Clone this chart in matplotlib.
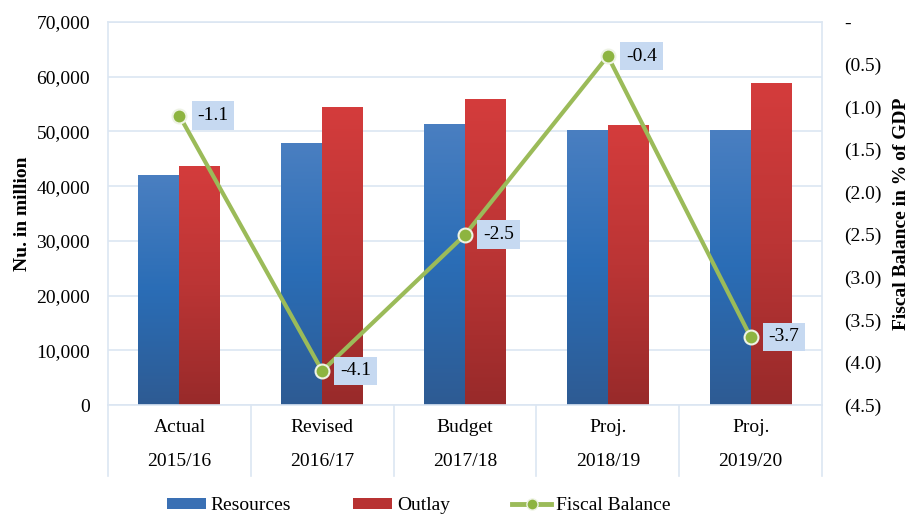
import numpy as np
import matplotlib.pyplot as plt
from matplotlib.colors import LinearSegmentedColormap
from matplotlib.lines import Line2D
from matplotlib.patches import Patch

plt.rcParams['font.family'] = ['Liberation Serif', 'DejaVu Serif']

stages = ["Actual", "Revised", "Budget", "Proj.", "Proj."]
years = ["2015/16", "2016/17", "2017/18", "2018/19", "2019/20"]
resources = [42000, 47900, 51400, 50300, 50200]
outlay = [43600, 54400, 55900, 51100, 58800]
fiscal = [-1.1, -4.1, -2.5, -0.4, -3.7]

grid_col = "#dce6f2"
blue_map = LinearSegmentedColormap.from_list("b", ["#4a7fc1", "#2a6db6", "#2e5b93"])
red_map = LinearSegmentedColormap.from_list("r", ["#d43c3c", "#bb3535", "#982a2a"])

fig = plt.figure(figsize=(9.08, 5.14), dpi=100)
ax = fig.add_axes([108/908, 1 - 405/514, (822-108)/908, (405-22)/514])

x = np.arange(len(years))
w = 0.287
b1 = ax.bar(x - w/2, resources, w, color="#3a74b8", zorder=2)
b2 = ax.bar(x + w/2, outlay, w, color="#c33636", zorder=2)

# vertical gradient fill, clipped to each bar
grad = np.linspace(0, 1, 256).reshape(-1, 1)
for bars, cmap in ((b1, blue_map), (b2, red_map)):
    for r in bars:
        x0, y0 = r.get_x(), r.get_y()
        im = ax.imshow(grad, cmap=cmap, aspect="auto", zorder=2.1,
                       extent=[x0, x0 + r.get_width(), y0, y0 + r.get_height()],
                       origin="upper")
        im.set_clip_path(r)

ax.set_xlim(-0.5, len(years) - 0.5)
ax.set_ylim(0, 70000)
ax.set_yticks(np.arange(0, 70001, 10000))
ax.set_yticklabels([f"{v:,}" for v in range(0, 70001, 10000)])
ax.grid(axis="y", color=grid_col, linewidth=1.2, zorder=0)
ax.set_axisbelow(True)
for s in ax.spines.values():
    s.set_color(grid_col)
    s.set_linewidth(1.2)
ax.tick_params(axis="y", length=0, labelsize=14, pad=13)
ax.tick_params(axis="x", length=0, labelbottom=False)
ax.set_ylabel("Nu. in million", fontsize=14, fontweight="bold", labelpad=4)

# two-level category labels
for i in range(len(years)):
    ax.text(i, -0.06, stages[i], transform=ax.get_xaxis_transform(),
            ha="center", va="center", fontsize=14)
    ax.text(i, -0.148, years[i], transform=ax.get_xaxis_transform(),
            ha="center", va="center", fontsize=14)
for b in np.arange(-0.5, len(years), 1):
    ax.plot([b, b], [0, -0.185], transform=ax.get_xaxis_transform(),
            color=grid_col, linewidth=1.2, clip_on=False)

ax2 = ax.twinx()
ax2.set_ylim(-4.5, 0)
ticks = np.arange(-4.5, 0.01, 0.5)
ax2.set_yticks(ticks)
ax2.set_yticklabels(["-" if abs(t) < 1e-9 else f"({abs(t):.1f})" for t in ticks])
ax2.tick_params(axis="y", length=0, labelsize=14, pad=16)
for s in ax2.spines.values():
    s.set_visible(False)
ax2.set_ylabel("Fiscal Balance in % of GDP", fontsize=14, fontweight="bold", labelpad=8)

ax2.plot(x, fiscal, color="#9bbb59", linewidth=3, marker="o", markersize=10,
         markerfacecolor="#8db440", markeredgecolor="#eef3e4", markeredgewidth=1.5,
         zorder=5)
for xi, v in zip(x, fiscal):
    ax2.annotate(f"{v:.1f}", (xi, v), xytext=(13, 0), textcoords="offset points",
                 ha="left", va="center", fontsize=14, zorder=6,
                 bbox=dict(boxstyle="square,pad=0.3", fc="#c6d9f1", ec="none"))

handles = [Patch(facecolor="#3a70b4", label="Resources"),
           Patch(facecolor="#b83232", label="Outlay"),
           Line2D([0], [0], color="#9bbb59", linewidth=3.5, marker="o", markersize=8,
                  markerfacecolor="#8db440", markeredgecolor="#eef3e4", label="Fiscal Balance")]
fig.legend(handles=handles, loc="lower center", bbox_to_anchor=(0.461, -0.035), ncol=3,
           frameon=False, fontsize=14, columnspacing=3.2, handlelength=2.0,
           handleheight=0.45, handletextpad=0.25)

fig.savefig("out.png", dpi=100)
